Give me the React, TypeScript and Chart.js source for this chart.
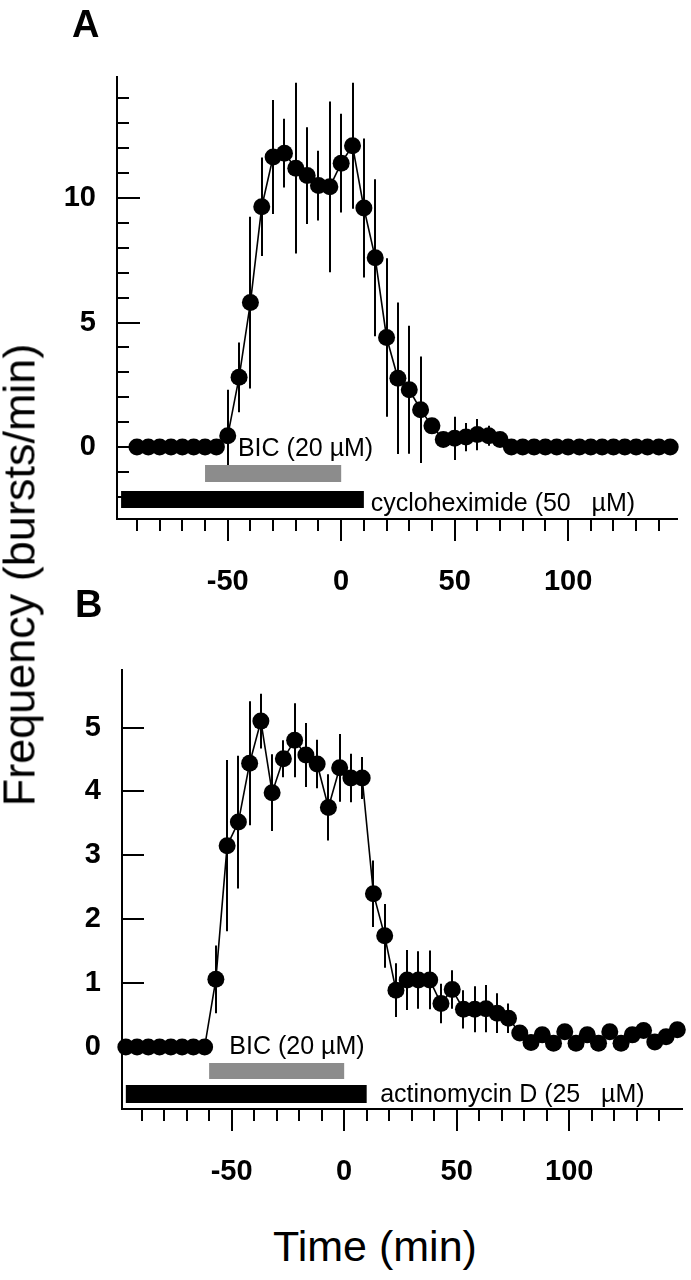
import React, { useEffect, useRef } from "react";
import { Chart, registerables } from "chart.js";
Chart.register(...registerables);

const FONT = "'Liberation Sans', Arial, Helvetica, sans-serif";

// ---------- Panel A (cycloheximide) ----------
const timeA = [-90, -85, -80, -75, -70, -65, -60, -55, -50, -45, -40, -35, -30, -25, -20, -15, -10, -5, 0, 5, 10, 15, 20, 25, 30, 35, 40, 45, 50, 55, 60, 65, 70, 75, 80, 85, 90, 95, 100, 105, 110, 115, 120, 125, 130, 135, 140, 145];
const freqA = [0, 0, 0, 0, 0, 0, 0, 0, 0.45, 2.8, 5.8, 9.65, 11.65, 11.8, 11.2, 10.9, 10.5, 10.45, 11.4, 12.1, 9.6, 7.6, 4.4, 2.76, 2.3, 1.5, 0.85, 0.3, 0.35, 0.4, 0.5, 0.45, 0.3, 0, 0, 0, 0, 0, 0, 0, 0, 0, 0, 0, 0, 0, 0, 0];
const errA = [0, 0, 0, 0, 0, 0, 0, 0, 1.85, 1.4, 3.45, 1.98, 2.29, 1.38, 3.43, 1.94, 1.4, 3.43, 1.98, 2.53, 2.79, 3.15, 3.18, 3.04, 2.57, 2.14, 0.2, 0.15, 0.87, 0.57, 0.63, 0.4, 0.2, 0, 0, 0, 0, 0, 0, 0, 0, 0, 0, 0, 0, 0, 0, 0];
const yLabelTicksA = [0, 5, 10];
const yMinorTicksA = [-2, -1, 1, 2, 3, 4, 6, 7, 8, 9, 11, 12, 13, 14];
const bicBarA = [-60, 0];
const bicLevelA = -1.06;
const drugBarA = [-97, 10];
const drugLevelA = -2.11;
const notesA = [
  { text: "BIC (20 µM)", x: -45.5, y: -0.08 },
  { text: "cycloheximide (50   µM)", x: 13, y: -2.3 },
];

// ---------- Panel B (actinomycin D) ----------
const timeB = [-97, -92, -87, -82, -77, -72, -67, -62, -57, -52, -47, -42, -37, -32, -27, -22, -17, -12, -7, -2, 3, 8, 13, 18, 23, 28, 33, 38, 43, 48, 53, 58, 63, 68, 73, 78, 83, 88, 93, 98, 103, 108, 113, 118, 123, 128, 133, 138, 143, 148];
const freqB = [0, 0, 0, 0, 0, 0, 0, 0, 1.06, 3.15, 3.52, 4.44, 5.1, 3.98, 4.51, 4.8, 4.57, 4.43, 3.75, 4.37, 4.21, 4.21, 2.4, 1.74, 0.89, 1.05, 1.05, 1.05, 0.68, 0.9, 0.59, 0.59, 0.6, 0.53, 0.45, 0.22, 0.07, 0.19, 0.06, 0.24, 0.06, 0.19, 0.06, 0.24, 0.06, 0.19, 0.26, 0.08, 0.16, 0.27];
const errB = [0, 0, 0, 0, 0, 0, 0, 0, 0.53, 1.34, 1.04, 0.97, 0.43, 0.6, 0.29, 0.58, 0.5, 0.38, 0.52, 0.53, 0.38, 0.33, 0.52, 0.5, 0.42, 0.47, 0.45, 0.46, 0.31, 0.3, 0.3, 0.36, 0.37, 0.31, 0.23, 0, 0, 0, 0, 0, 0, 0, 0, 0, 0, 0, 0, 0, 0, 0];
const yLabelTicksB = [0, 1, 2, 3, 4, 5];
const yMinorTicksB: number[] = [];
const bicBarB = [-60, 0];
const bicLevelB = -0.376;
const drugBarB = [-97, 10];
const drugLevelB = -0.735;
const notesB = [
  { text: "BIC (20 µM)", x: -51, y: 0 },
  { text: "actinomycin D (25   µM)", x: 16, y: -0.76 },
];

// ---------- shared x axis ticks ----------
const xLabelTicks = [-50, 0, 50, 100];
const xMinorTicks = [-90, -80, -70, -60, -40, -30, -20, -10, 10, 20, 30, 40, 60, 70, 80, 90, 110, 120, 130, 140];

type PanelCfg = {
  times: number[];
  values: number[];
  errors: number[];
  yLabels: number[];
  yMinor: number[];
  yMajorLen: number;
  yMinorLen: number;
  bic: number[];
  bicLevel: number;
  bicWidth: number;
  drug: number[];
  drugLevel: number;
  drugWidth: number;
  notes: { text: string; x: number; y: number }[];
  xMin: number;
  xMax: number;
  yMin: number;
  yMax: number;
  canvasH: number;
  area: { left: number; right: number; top: number; bottom: number };
};

function makePlugin(cfg: PanelCfg) {
  return {
    id: "panelDecor",
    beforeDatasetsDraw(chart: any) {
      const { ctx, chartArea, scales } = chart;
      const x = scales.x;
      const y = scales.y;
      ctx.save();
      ctx.strokeStyle = "#000";
      ctx.lineWidth = 2;
      // error bars
      cfg.times.forEach((t, i) => {
        const e = cfg.errors[i];
        if (!e) return;
        const px = Math.round(x.getPixelForValue(t));
        ctx.beginPath();
        ctx.moveTo(px, y.getPixelForValue(cfg.values[i] + e));
        ctx.lineTo(px, y.getPixelForValue(cfg.values[i] - e));
        ctx.stroke();
      });
      // inward y ticks
      const l = chartArea.left;
      const drawY = (vals: number[], len: number) => {
        vals.forEach((v) => {
          const py = Math.round(y.getPixelForValue(v));
          ctx.beginPath();
          ctx.moveTo(l, py);
          ctx.lineTo(l + len, py);
          ctx.stroke();
        });
      };
      drawY(cfg.yLabels, cfg.yMajorLen);
      drawY(cfg.yMinor, cfg.yMinorLen);
      // outward x ticks
      const b = chartArea.bottom;
      const drawX = (vals: number[], len: number) => {
        vals.forEach((v) => {
          const px = Math.round(x.getPixelForValue(v));
          ctx.beginPath();
          ctx.moveTo(px, b);
          ctx.lineTo(px, b + len);
          ctx.stroke();
        });
      };
      drawX(xLabelTicks, 22);
      drawX(xMinorTicks, 12);
      ctx.restore();
    },
    afterDatasetsDraw(chart: any) {
      const { ctx, scales } = chart;
      const x = scales.x;
      const y = scales.y;
      ctx.save();
      ctx.fillStyle = "#000";
      ctx.font = `25px ${FONT}`;
      ctx.textAlign = "left";
      ctx.textBaseline = "middle";
      cfg.notes.forEach((n) => {
        ctx.fillText(n.text, x.getPixelForValue(n.x), y.getPixelForValue(n.y));
      });
      ctx.restore();
    },
  };
}

function Panel({ cfg, top }: { cfg: PanelCfg; top: number }) {
  const ref = useRef<HTMLCanvasElement | null>(null);
  useEffect(() => {
    if (!ref.current) return;
    const a = cfg.area;
    const chart = new Chart(ref.current, {
      type: "line",
      data: {
        datasets: [
          {
            data: cfg.times.map((t, i) => ({ x: t, y: cfg.values[i] })),
            borderColor: "#000",
            borderWidth: 1.6,
            pointRadius: 8.5,
            pointBackgroundColor: "#000",
            pointBorderWidth: 0,
            tension: 0,
            clip: false as any,
            order: 0,
          },
          {
            data: [
              { x: cfg.bic[0], y: cfg.bicLevel },
              { x: cfg.bic[1], y: cfg.bicLevel },
            ],
            borderColor: "#8c8c8c",
            borderWidth: cfg.bicWidth,
            borderCapStyle: "butt",
            pointRadius: 0,
            order: 1,
          },
          {
            data: [
              { x: cfg.drug[0], y: cfg.drugLevel },
              { x: cfg.drug[1], y: cfg.drugLevel },
            ],
            borderColor: "#000",
            borderWidth: cfg.drugWidth,
            borderCapStyle: "butt",
            pointRadius: 0,
            order: 2,
          },
        ],
      },
      options: {
        responsive: false,
        maintainAspectRatio: false,
        animation: false,
        events: [],
        layout: {
          padding: { top: a.top, left: 0, right: 691 - a.right, bottom: 0 },
        },
        plugins: { legend: { display: false }, tooltip: { enabled: false } },
        scales: {
          x: {
            type: "linear",
            min: cfg.xMin,
            max: cfg.xMax,
            grid: { display: false, drawTicks: false },
            border: { display: true, color: "#000", width: 2 },
            ticks: {
              color: "#000",
              font: { family: FONT, size: 29, weight: "bold" },
              padding: 46,
              autoSkip: false,
              maxRotation: 0,
            },
            afterBuildTicks: (s: any) => {
              s.ticks = xLabelTicks.map((v) => ({ value: v }));
            },
            afterFit: (s: any) => {
              s.height = cfg.canvasH - a.bottom;
            },
          },
          y: {
            type: "linear",
            min: cfg.yMin,
            max: cfg.yMax,
            grid: { display: false, drawTicks: false },
            border: { display: true, color: "#000", width: 2 },
            ticks: {
              color: "#000",
              font: { family: FONT, size: 29, weight: "bold" },
              padding: 21,
              autoSkip: false,
            },
            afterBuildTicks: (s: any) => {
              s.ticks = cfg.yLabels.map((v) => ({ value: v }));
            },
            afterFit: (s: any) => {
              s.width = a.left;
            },
          },
        },
      } as any,
      plugins: [makePlugin(cfg)],
    });
    return () => chart.destroy();
  }, [cfg]);
  return (
    <canvas
      ref={ref}
      width={691}
      height={cfg.canvasH}
      style={{ position: "absolute", left: 0, top, width: 691, height: cfg.canvasH, display: "block" }}
    />
  );
}

const cfgA: PanelCfg = {
  times: timeA,
  values: freqA,
  errors: errA,
  yLabels: yLabelTicksA,
  yMinor: yMinorTicksA,
  yMajorLen: 23,
  yMinorLen: 12,
  bic: bicBarA,
  bicLevel: bicLevelA,
  bicWidth: 17,
  drug: drugBarA,
  drugLevel: drugLevelA,
  drugWidth: 17,
  notes: notesA,
  xMin: -98.8,
  xMax: 148,
  yMin: -2.89,
  yMax: 14.86,
  canvasH: 600,
  area: { left: 117, right: 677, top: 77, bottom: 519 },
};

const cfgB: PanelCfg = {
  times: timeB,
  values: freqB,
  errors: errB,
  yLabels: yLabelTicksB,
  yMinor: yMinorTicksB,
  yMajorLen: 22,
  yMinorLen: 12,
  bic: bicBarB,
  bicLevel: bicLevelB,
  bicWidth: 16,
  drug: drugBarB,
  drugLevel: drugLevelB,
  drugWidth: 18,
  notes: notesB,
  xMin: -98.7,
  xMax: 150.3,
  yMin: -0.97,
  yMax: 5.9,
  canvasH: 600,
  area: { left: 122, right: 686, top: 70, bottom: 509 },
};

export default function App() {
  return (
    <div
      style={{
        position: "absolute",
        left: 0,
        top: 0,
        width: 691,
        height: 1280,
        background: "#fff",
        overflow: "hidden",
        fontFamily: FONT,
        color: "#000",
      }}
    >
      <Panel cfg={cfgA} top={0} />
      <Panel cfg={cfgB} top={600} />
      <div style={{ position: "absolute", left: 72, top: 5, fontSize: 38, fontWeight: "bold", lineHeight: 1 }}>A</div>
      <div style={{ position: "absolute", left: 75, top: 585, fontSize: 38, fontWeight: "bold", lineHeight: 1 }}>B</div>
      <div
        style={{
          position: "absolute",
          left: 19,
          top: 575,
          transform: "translate(-50%, -50%) rotate(-90deg)",
          whiteSpace: "nowrap",
          fontSize: 45,
          lineHeight: 1,
        }}
      >
        Frequency (bursts/min)
      </div>
      <div
        style={{
          position: "absolute",
          left: 375,
          top: 1225,
          transform: "translateX(-50%)",
          whiteSpace: "nowrap",
          fontSize: 43,
          lineHeight: 1,
        }}
      >
        Time (min)
      </div>
    </div>
  );
}
